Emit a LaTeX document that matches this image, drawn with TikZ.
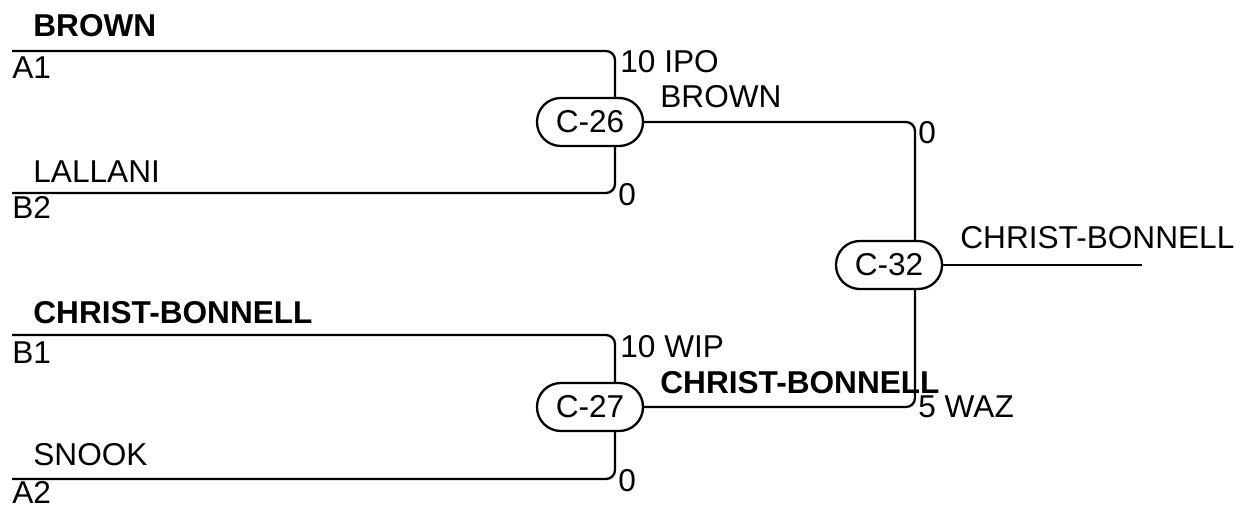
\documentclass[tikz,border=0pt]{standalone}
\usepackage{fontspec}
\setmainfont{Liberation Sans}
\usetikzlibrary{calc}
\begin{document}
\begin{tikzpicture}[x=0.5pt,y=-0.5pt,
  every node/.style={font=\fontsize{15.8}{18}\selectfont},
  lbl/.style={anchor=base west,inner sep=0pt},
  blbl/.style={lbl,font=\fontsize{15.8}{18}\selectfont\bfseries},
  game/.style={draw,line width=1.15pt,rectangle,rounded corners=11.9pt,minimum width=53pt,minimum height=24pt,inner sep=0pt},
  wire/.style={line width=1.15pt,rounded corners=4.5pt}]
\useasboundingbox (0,0) rectangle (1236,508);
% game nodes
\node[game] (c26) at (590,122) {C-26};
\node[game] (c27) at (590,407) {C-27};
\node[game] (c32) at (889,265) {C-32};
% guide coordinates
\coordinate (v1) at (615,0);
\coordinate (v2) at (915,0);
\coordinate (a1) at (12,51);
\coordinate (b2) at (12,193);
\coordinate (b1) at (12,335);
\coordinate (a2) at (12,479);
\coordinate (out) at (1142,265);
% connectors
\draw[wire] (a1) -| (c26.north -| v1);
\draw[wire] (b2) -| (c26.south -| v1);
\draw[wire] (b1) -| (c27.north -| v1);
\draw[wire] (a2) -| (c27.south -| v1);
\draw[wire] (c26.east) -| (c32.north -| v2);
\draw[wire] (c27.east) -| (c32.south -| v2);
\draw[wire] (c32.east) -- (out);
% labels
\node[blbl] (tBrown) at (33,37) {BROWN};
\node[lbl] (tA1) at (12,79) {A1};
\node[lbl] (tLal) at (33,182) {LALLANI};
\node[lbl] (tB2) at (12,218) {B2};
\node[lbl] (s1) at (620,73) {10 IPO};
\node[lbl] (w1) at (660,108) {BROWN};
\node[lbl] (s2) at (618,205) {0};
\node[lbl] (s3) at (918,143) {0};
\node[lbl] (w3) at (960,248) {CHRIST-BONNELL};
\node[blbl] (tCB) at (33,323) {CHRIST-BONNELL};
\node[lbl] (tB1) at (12,363) {B1};
\node[lbl] (s4) at (620,357) {10 WIP};
\node[blbl] (w2) at (660,393) {CHRIST-BONNELL};
\node[lbl] (s5) at (918,417) {5 WAZ};
\node[lbl] (tSn) at (33,465) {SNOOK};
\node[lbl] (s6) at (618,491) {0};
\node[lbl] (tA2) at (12,503) {A2};
\end{tikzpicture}
\end{document}
